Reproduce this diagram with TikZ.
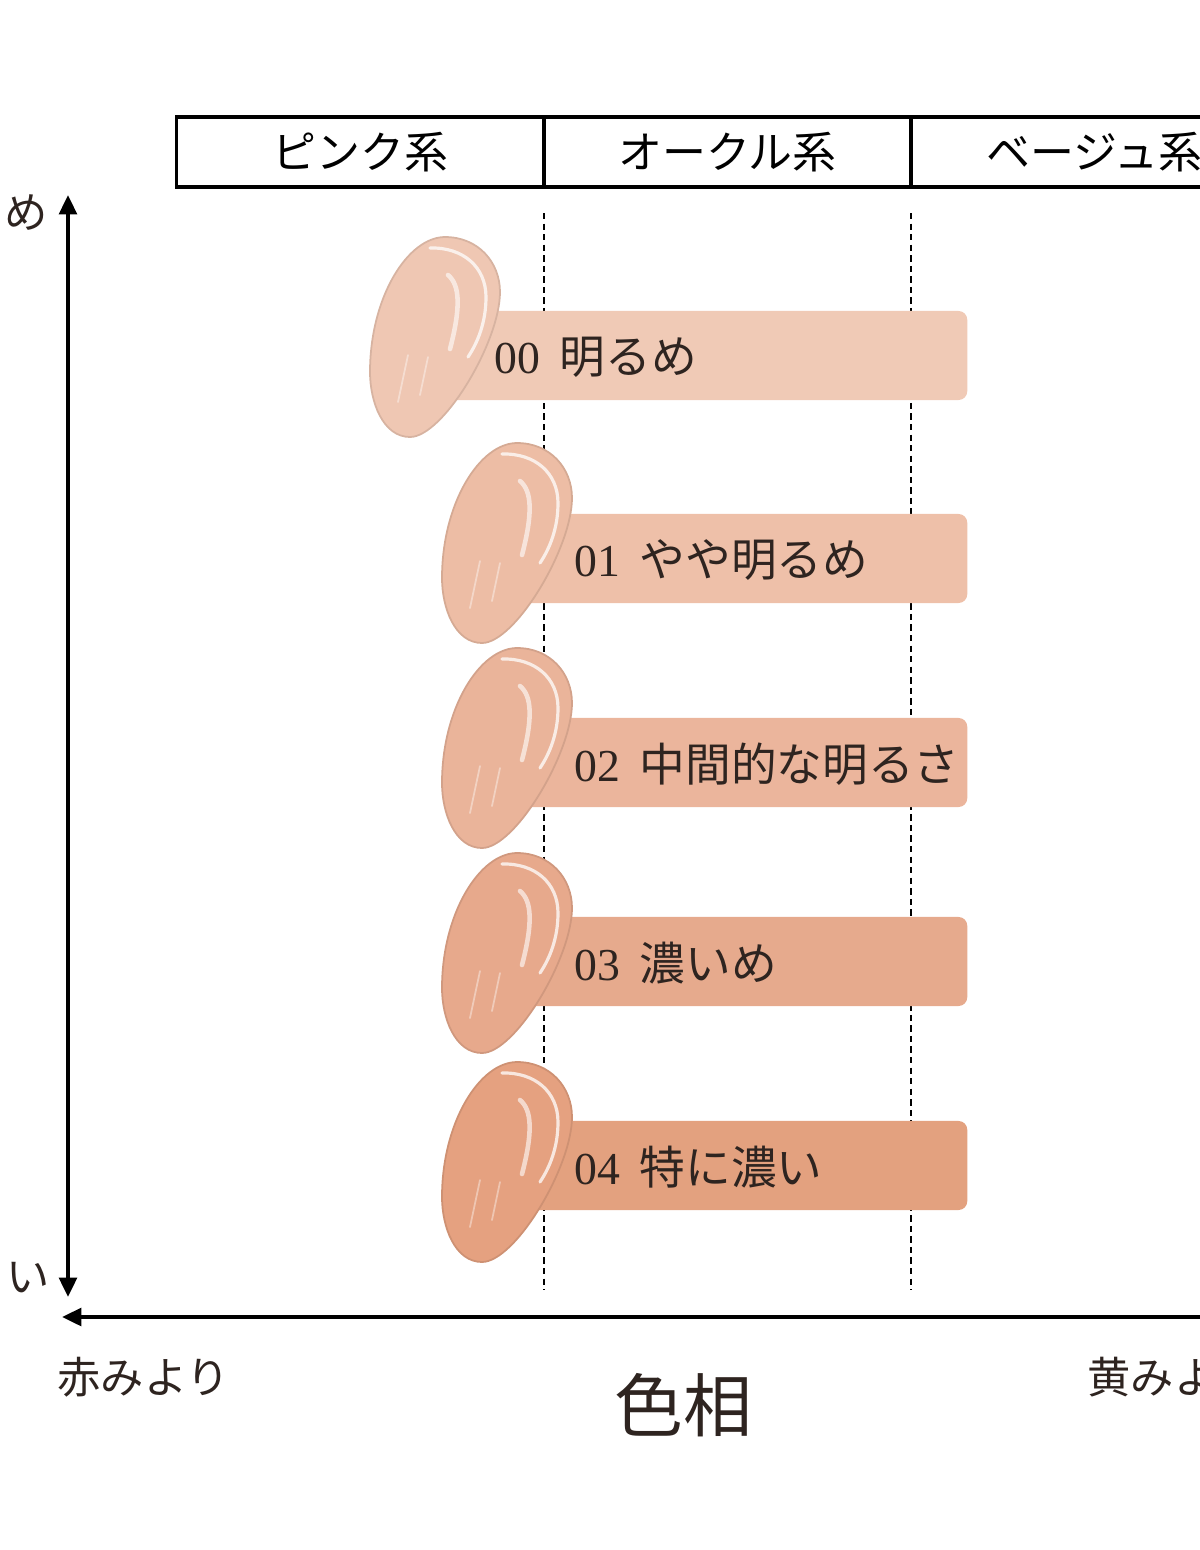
\documentclass[tikz,border=0pt]{standalone}
\usepackage{fontspec}
\setmainfont{Liberation Serif}
\newfontfamily\jp{Noto Sans CJK JP}
\usetikzlibrary{arrows.meta}

\definecolor{bar0}{HTML}{F0CAB6}
\definecolor{bar1}{HTML}{EEC0A9}
\definecolor{bar2}{HTML}{EBB59C}
\definecolor{bar3}{HTML}{E6AA8D}
\definecolor{bar4}{HTML}{E3A17F}
\definecolor{sw0}{HTML}{EFC7B3}
\definecolor{sw1}{HTML}{EDBDA5}
\definecolor{sw2}{HTML}{EAB49A}
\definecolor{sw3}{HTML}{E7A98C}
\definecolor{sw4}{HTML}{E5A180}
\definecolor{ink}{HTML}{2E2420}

\begin{document}
\begin{tikzpicture}[x=0.01cm, y=-0.01cm,
	ax/.tip = {Triangle[length=5.5pt, width=5pt]},
	axis/.style = {line width=1.1pt},
	guide/.style = {line width=0.5pt, dash pattern=on 1.8pt off 1.2pt},
	head/.style = {draw, line width=0.9pt, minimum width=3.67cm, minimum height=0.7cm, inner sep=0, font=\jp\fontsize{12.5}{12.5}\selectfont},
	bar/.style = {rounded corners=2.5pt, minimum height=0.89cm, inner sep=0},
	shade name/.style = {anchor=west, inner sep=0, text=ink, font=\fontsize{13}{13}\selectfont},
	axis name/.style = {inner sep=0, text=ink, font=\jp\fontsize{12.3}{12.3}\selectfont},
	pics/swatch/.style = {code={
		\filldraw[fill=#1, draw=#1!90!black, line width=0.5pt] (77,0) .. controls (110,0) and (132,25) .. (132,55) .. controls (132,105) and (75,200) .. (42,200) .. controls (15,200) and (2,165) .. (2,135) .. controls (2,60) and (40,0) .. (77,0) -- cycle;
		\draw[white, line width=0.9pt, opacity=0.75, line cap=round] (62,11) .. controls (95,10) and (118,30) .. (118,60) .. controls (118,85) and (110,105) .. (100,120);
		\draw[white, line width=1.3pt, opacity=0.6, line cap=round] (80,38) .. controls (92,48) and (93,70) .. (82,112);
		\draw[white, line width=0.5pt, opacity=0.4, line cap=round] (40,118) -- (30,165);
		\draw[white, line width=0.5pt, opacity=0.4, line cap=round] (60,120) -- (52,158);
	}}]
	\useasboundingbox (0,0) rectangle (1200,1550);

	\node[head] (pink) at (360.5,152) {ピンク系};
	\node[head] (ochre) at (727.5,152) {オークル系};
	\node[head] (beige) at (1094.5,152) {ベージュ系};

	\coordinate (g1top) at (544,213);
	\coordinate (g1bot) at (544,1290);
	\coordinate (g2top) at (911,213);
	\coordinate (g2bot) at (911,1290);
	\draw[guide] (g1top) -- (g1bot);
	\draw[guide] (g2top) -- (g2bot);

	\node[bar, fill=bar0, minimum width=5.28cm, anchor=east] (bar0) at (968,355.5) {};
	\node[bar, fill=bar1, minimum width=4.58cm, anchor=east] (bar1) at (968,558.5) {};
	\node[bar, fill=bar2, minimum width=4.58cm, anchor=east] (bar2) at (968,762.5) {};
	\node[bar, fill=bar3, minimum width=4.58cm, anchor=east] (bar3) at (968,961.5) {};
	\node[bar, fill=bar4, minimum width=4.58cm, anchor=east] (bar4) at (968,1165.5) {};

	\pic at (368,237) {swatch=sw0};
	\pic at (440,443) {swatch=sw1};
	\pic at (440,648) {swatch=sw2};
	\pic at (440,853) {swatch=sw3};
	\pic at (440,1062) {swatch=sw4};

	\node[shade name] (name0) at (494,357) {00\hspace{0.42em}{\jp 明るめ}};
	\node[shade name] (name1) at (574,560) {01\hspace{0.42em}{\jp やや明るめ}};
	\node[shade name] (name2) at (574,764) {02\hspace{0.42em}{\jp 中間的な明るさ}};
	\node[shade name] (name3) at (574,963) {03\hspace{0.42em}{\jp 濃いめ}};
	\node[shade name] (name4) at (574,1167) {04\hspace{0.42em}{\jp 特に濃い}};

	\coordinate (ytop) at (68,195);
	\coordinate (ybot) at (68,1297);
	\coordinate (xleft) at (62,1317);
	\coordinate (xright) at (1215,1317);
	\draw[axis, ax-ax] (ybot) -- (ytop);
	\draw[axis, -ax] (xright) -- (xleft);

	\node[axis name, anchor=west] (light) at (4,213) {め};
	\node[axis name, anchor=west] (deep) at (6,1278) {い};
	\node[axis name, anchor=west] (reddish) at (57,1377) {赤みより};
	\node[axis name, font=\jp\fontsize{19.6}{19.6}\selectfont] (hue) at (683,1405) {色相};
	\node[axis name, anchor=west] (yellowish) at (1087,1377) {黄みより};
\end{tikzpicture}
\end{document}
